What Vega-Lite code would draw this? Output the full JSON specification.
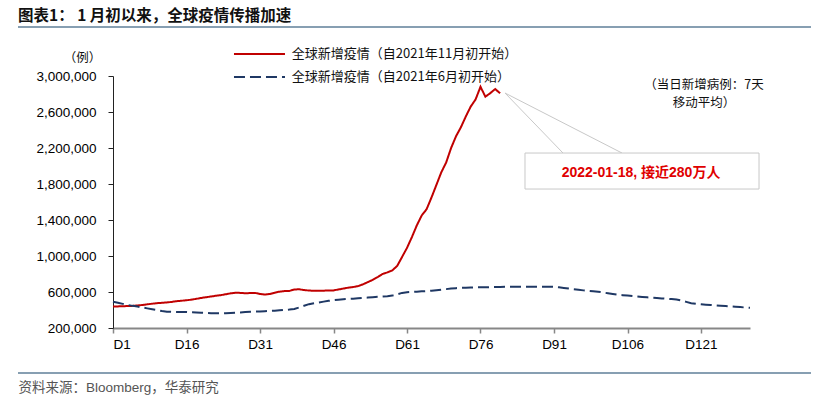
{
  "$schema": "https://vega.github.io/schema/vega-lite/v6.json",
  "width": 637,
  "height": 252,
  "autosize": {"type": "none"},
  "padding": {"left": 113, "top": 76, "right": 77, "bottom": 70},
  "background": "white",
  "title": {"text": "图表1： 1 月初以来，全球疫情传播加速", "anchor": "start", "frame": "group", "font": "Noto Sans CJK SC", "fontSize": 15.5, "fontWeight": "bold", "color": "#111111", "dx": -95, "dy": 5, "offset": 0, "baseline": "middle"},
  "config": {"view": {"stroke": null}, "axis": {"grid": false}},
  "resolve": {"axis": {"x": "independent", "y": "independent"}},
  "data": {"values": [
    {"d":1,"nov":440000,"jun":492000},{"d":2,"nov":440000,"jun":480000},{"d":3,"nov":442000,"jun":468000},{"d":4,"nov":444000,"jun":456000},{"d":5,"nov":446000,"jun":446000},
    {"d":6,"nov":450000,"jun":438000},{"d":7,"nov":456000,"jun":428000},{"d":8,"nov":463000,"jun":418000},{"d":9,"nov":470000,"jun":408000},{"d":10,"nov":476000,"jun":398000},
    {"d":11,"nov":480000,"jun":388000},{"d":12,"nov":484000,"jun":381000},{"d":13,"nov":490000,"jun":379000},{"d":14,"nov":498000,"jun":378000},{"d":15,"nov":503000,"jun":378000},
    {"d":16,"nov":508000,"jun":377000},{"d":17,"nov":515000,"jun":375000},{"d":18,"nov":524000,"jun":373000},{"d":19,"nov":534000,"jun":370000},{"d":20,"nov":542000,"jun":367000},
    {"d":21,"nov":550000,"jun":365000},{"d":22,"nov":558000,"jun":364000},{"d":23,"nov":565000,"jun":363000},{"d":24,"nov":575000,"jun":364000},{"d":25,"nov":585000,"jun":366000},
    {"d":26,"nov":592000,"jun":369000},{"d":27,"nov":590000,"jun":373000},{"d":28,"nov":586000,"jun":377000},{"d":29,"nov":588000,"jun":380000},{"d":30,"nov":590000,"jun":382000},
    {"d":31,"nov":578000,"jun":384000},{"d":32,"nov":572000,"jun":387000},{"d":33,"nov":578000,"jun":390000},{"d":34,"nov":592000,"jun":393000},{"d":35,"nov":604000,"jun":397000},
    {"d":36,"nov":610000,"jun":401000},{"d":37,"nov":612000,"jun":405000},{"d":38,"nov":628000,"jun":412000},{"d":39,"nov":630000,"jun":428000},{"d":40,"nov":622000,"jun":448000},
    {"d":41,"nov":616000,"jun":465000},{"d":42,"nov":614000,"jun":475000},{"d":43,"nov":614000,"jun":484000},{"d":44,"nov":615000,"jun":493000},{"d":45,"nov":616000,"jun":502000},
    {"d":46,"nov":618000,"jun":510000},{"d":47,"nov":628000,"jun":515000},{"d":48,"nov":638000,"jun":519000},{"d":49,"nov":648000,"jun":523000},{"d":50,"nov":655000,"jun":526000},
    {"d":51,"nov":665000,"jun":530000},{"d":52,"nov":685000,"jun":534000},{"d":53,"nov":710000,"jun":538000},{"d":54,"nov":735000,"jun":542000},{"d":55,"nov":765000,"jun":546000},
    {"d":56,"nov":800000,"jun":550000},{"d":57,"nov":818000,"jun":554000},{"d":58,"nov":840000,"jun":560000},{"d":59,"nov":890000,"jun":575000},{"d":60,"nov":990000,"jun":590000},
    {"d":61,"nov":1090000,"jun":597000},{"d":62,"nov":1210000,"jun":601000},{"d":63,"nov":1340000,"jun":604000},{"d":64,"nov":1450000,"jun":607000},{"d":65,"nov":1520000,"jun":610000},
    {"d":66,"nov":1650000,"jun":614000},{"d":67,"nov":1790000,"jun":620000},{"d":68,"nov":1930000,"jun":626000},{"d":69,"nov":2040000,"jun":632000},{"d":70,"nov":2200000,"jun":638000},
    {"d":71,"nov":2330000,"jun":643000},{"d":72,"nov":2430000,"jun":646000},{"d":73,"nov":2550000,"jun":648000},{"d":74,"nov":2660000,"jun":650000},{"d":75,"nov":2740000,"jun":651000},
    {"d":76,"nov":2880000,"jun":652000},{"d":77,"nov":2770000,"jun":653000},{"d":78,"nov":2810000,"jun":654000},{"d":79,"nov":2855000,"jun":655000},{"d":80,"nov":2808000,"jun":656000},
    {"d":81,"jun":657000},{"d":82,"jun":658000},{"d":83,"jun":658000},{"d":84,"jun":659000},{"d":85,"jun":659000},
    {"d":86,"jun":659000},{"d":87,"jun":659000},{"d":88,"jun":659000},{"d":89,"jun":659000},{"d":90,"jun":659000},
    {"d":91,"jun":658000},{"d":92,"jun":652000},{"d":93,"jun":645000},{"d":94,"jun":638000},{"d":95,"jun":630000},
    {"d":96,"jun":624000},{"d":97,"jun":618000},{"d":98,"jun":612000},{"d":99,"jun":607000},{"d":100,"jun":603000},
    {"d":101,"jun":595000},{"d":102,"jun":586000},{"d":103,"jun":578000},{"d":104,"jun":571000},{"d":105,"jun":565000},
    {"d":106,"jun":560000},{"d":107,"jun":555000},{"d":108,"jun":550000},{"d":109,"jun":545000},{"d":110,"jun":541000},
    {"d":111,"jun":537000},{"d":112,"jun":533000},{"d":113,"jun":529000},{"d":114,"jun":525000},{"d":115,"jun":521000},
    {"d":116,"jun":517000},{"d":117,"jun":505000},{"d":118,"jun":490000},{"d":119,"jun":476000},{"d":120,"jun":468000},
    {"d":121,"jun":463000},{"d":122,"jun":459000},{"d":123,"jun":455000},{"d":124,"jun":451000},{"d":125,"jun":447000},
    {"d":126,"jun":444000},{"d":127,"jun":440000},{"d":128,"jun":436000},{"d":129,"jun":432000},{"d":130,"jun":428000},
    {"d":131,"jun":425000}
  ]},
  "layer": [
    {
      "data": {"values": [{}]},
      "mark": {"type": "rule", "color": "#5f7f99", "strokeWidth": 1.5},
      "encoding": {"x": {"datum": -18.39, "type": "quantitative", "axis": null}, "x2": {"datum": 143.45}, "y": {"datum": 3544444, "type": "quantitative", "axis": null}}
    },
    {
      "data": {"values": [{}]},
      "mark": {"type": "rule", "color": "#5f7f99", "strokeWidth": 1.5},
      "encoding": {"x": {"datum": -18.39, "type": "quantitative", "axis": null}, "x2": {"datum": 143.45}, "y": {"datum": -300000, "type": "quantitative", "axis": null}}
    },
    {
      "data": {"values": [{}]},
      "mark": {"type": "rule", "color": "#C00000", "strokeWidth": 2},
      "encoding": {"x": {"datum": 25.69, "type": "quantitative", "axis": null}, "x2": {"datum": 36.1}, "y": {"datum": 3244444, "type": "quantitative", "axis": null}}
    },
    {
      "data": {"values": [{}]},
      "mark": {"type": "rule", "color": "#1F3864", "strokeWidth": 2, "strokeDash": [11, 5]},
      "encoding": {"x": {"datum": 25.69, "type": "quantitative", "axis": null}, "x2": {"datum": 36.1}, "y": {"datum": 2988889, "type": "quantitative", "axis": null}}
    },
    {
      "data": {"values": [{}]},
      "mark": {"type": "text", "text": "全球新增疫情（自2021年11月初开始）", "font": "Noto Sans CJK SC", "fontSize": 13, "color": "#111111", "align": "left", "baseline": "middle"},
      "encoding": {"x": {"datum": 37.5, "type": "quantitative", "axis": null}, "y": {"datum": 3244444, "type": "quantitative", "axis": null}}
    },
    {
      "data": {"values": [{}]},
      "mark": {"type": "text", "text": "全球新增疫情（自2021年6月初开始）", "font": "Noto Sans CJK SC", "fontSize": 13, "color": "#111111", "align": "left", "baseline": "middle"},
      "encoding": {"x": {"datum": 37.5, "type": "quantitative", "axis": null}, "y": {"datum": 2988889, "type": "quantitative", "axis": null}}
    },
    {
      "data": {"values": [{}]},
      "mark": {"type": "rule", "color": "#c8c8c8", "strokeWidth": 1},
      "encoding": {"x": {"datum": 81.0, "type": "quantitative", "axis": null}, "y": {"datum": 2811000, "type": "quantitative", "axis": null}, "x2": {"datum": 92.84}, "y2": {"datum": 2144000}}
    },
    {
      "data": {"values": [{}]},
      "mark": {"type": "rule", "color": "#c8c8c8", "strokeWidth": 1},
      "encoding": {"x": {"datum": 81.0, "type": "quantitative", "axis": null}, "y": {"datum": 2811000, "type": "quantitative", "axis": null}, "x2": {"datum": 104.88}, "y2": {"datum": 2144000}}
    },
    {
      "data": {"values": [{}]},
      "mark": {"type": "rect", "fill": "white", "stroke": "#c8c8c8", "strokeWidth": 1},
      "encoding": {"x": {"datum": 85.08, "type": "quantitative", "axis": null}, "x2": {"datum": 132.84}, "y": {"datum": 2144000, "type": "quantitative", "axis": null}, "y2": {"datum": 1744000}}
    },
    {
      "data": {"values": [{"label": "2022-01-18, 接近280万人", "d": 108.76, "v": 1926000}]},
      "mark": {"type": "text", "font": "Liberation Sans, Noto Sans CJK SC", "fontSize": 14, "fontWeight": "bold", "color": "#E00000", "align": "center", "baseline": "middle"},
      "encoding": {"x": {"field": "d", "type": "quantitative", "axis": null}, "y": {"field": "v", "type": "quantitative", "axis": null}, "text": {"field": "label"}}
    },
    {
      "data": {"values": [{"label": ["（当日新增病例：7天", "移动平均）"], "d": 121.6, "v": 2895000}]},
      "mark": {"type": "text", "font": "Noto Sans CJK SC", "fontSize": 12.5, "color": "#111111", "align": "center", "baseline": "middle", "lineHeight": 18},
      "encoding": {"x": {"field": "d", "type": "quantitative", "axis": null}, "y": {"field": "v", "type": "quantitative", "axis": null}, "text": {"field": "label"}}
    },
    {
      "transform": [
        {"fold": ["nov", "jun"], "as": ["s", "v"]},
        {"filter": "isValid(datum.v)"}
      ],
      "mark": {"type": "line", "strokeWidth": 2},
      "encoding": {
        "x": {"field": "d", "type": "quantitative",
          "scale": {"domain": [1, 131], "nice": false, "zero": false},
          "axis": {"values": [1, 16, 31, 46, 61, 76, 91, 106, 121], "labelExpr": "'D' + datum.value",
            "domainColor": "#878787", "domainWidth": 2, "tickColor": "#878787", "tickWidth": 1.5, "tickSize": 5,
            "labelFont": "Liberation Sans", "labelFontSize": 13.5, "labelColor": "#000000", "labelPadding": 4,
            "title": "资料来源：Bloomberg，华泰研究", "titleX": -95, "titleY": 59, "titleAlign": "left", "titleBaseline": "middle",
            "titleFont": "Liberation Sans, Noto Sans CJK SC", "titleFontSize": 13.5, "titleFontWeight": "normal", "titleColor": "#555555"}},
        "y": {"field": "v", "type": "quantitative",
          "scale": {"domain": [200000, 3000000], "nice": false, "zero": false},
          "axis": {"values": [200000, 600000, 1000000, 1400000, 1800000, 2200000, 2600000, 3000000], "format": ",d", "labelOverlap": false,
            "domainColor": "#222222", "domainWidth": 1, "tickColor": "#222222", "tickSize": 5,
            "labelFont": "Liberation Sans", "labelFontSize": 13.5, "labelColor": "#000000", "labelPadding": 12,
            "title": "（例）", "titleAngle": 0, "titleX": -31, "titleY": -19, "titleAlign": "center", "titleBaseline": "middle",
            "titleFont": "Noto Sans CJK SC", "titleFontSize": 12.5, "titleFontWeight": "normal", "titleColor": "#111111"}},
        "color": {"field": "s", "type": "nominal",
          "scale": {"domain": ["nov", "jun"], "range": ["#C00000", "#1F3864"]}, "legend": null},
        "strokeDash": {"field": "s", "type": "nominal",
          "scale": {"domain": ["nov", "jun"], "range": [[1, 0], [11, 5]]}, "legend": null}
      }
    }
  ]
}
